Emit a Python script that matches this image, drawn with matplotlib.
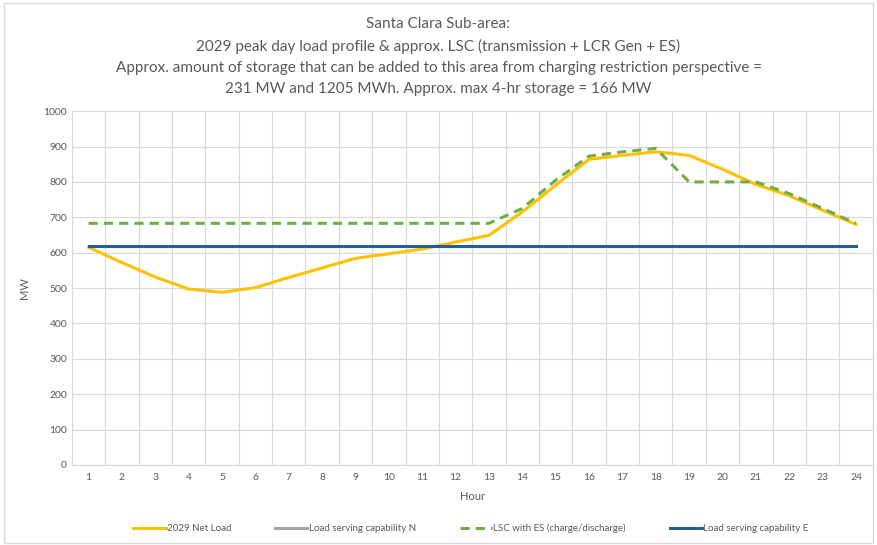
import numpy as np
from matplotlib import pyplot as plt
from matplotlib.patches import Rectangle

plt.rcParams['font.family'] = ['Lato', 'DejaVu Sans']

hours = list(range(1, 25))
net_load = [615, 572, 531, 497, 488, 501, 530, 557, 584, 597, 610, 630,
            649, 715, 791, 864, 875, 885, 875, 836, 793, 761, 720, 680]
lsc_n = [620] * 24
lsc_es = [683, 683, 683, 683, 683, 683, 683, 683, 683, 683, 683, 683,
          683, 725, 805, 873, 885, 895, 800, 800, 800, 767, 725, 683]
lsc_e = [620] * 24

title = ('Santa Clara Sub-area:\n'
         '2029 peak day load profile & approx. LSC (transmission + LCR Gen + ES)\n'
         'Approx. amount of storage that can be added to this area from charging restriction perspective =\n'
         '231 MW and 1205 MWh. Approx. max 4-hr storage = 166 MW')

txt = '#595959'
fig = plt.figure(figsize=(8.77, 5.45), dpi=100)
fig.patches.append(Rectangle((0.004, 0.004), 0.992, 0.99, transform=fig.transFigure,
                             fill=False, edgecolor='#d9d9d9', lw=1))
ax = fig.add_axes([0.082, 0.147, 0.913, 0.649])

x = np.arange(len(hours))
ax.plot(x, net_load, color='#ffc000', lw=2.2, label='2029 Net Load', zorder=3)
ax.plot(x, lsc_n, color='#a5a5a5', lw=2.2, label='Load serving capability N', zorder=2)
ax.plot(x, lsc_es, color='#70ad47', lw=2.2, ls=(0, (3, 2)), label='LSC with ES (charge/discharge)', zorder=4)
ax.plot(x, lsc_e, color='#255e91', lw=2.2, label='Load serving capability E', zorder=3)

ax.set_xlim(-0.5, len(hours) - 0.5)
ax.set_ylim(0, 1000)
ax.set_yticks(range(0, 1001, 100))
ax.set_xticks(x)
ax.set_xticklabels([str(h) for h in hours])
ax.set_xticks(np.arange(-0.5, len(hours)), minor=True)
ax.grid(True, which='minor', axis='x', color='#d9d9d9', lw=0.8)
ax.grid(True, which='major', axis='y', color='#d9d9d9', lw=0.8)
ax.set_axisbelow(True)
ax.tick_params(which='both', length=0, labelsize=7.5, labelcolor=txt)
ax.tick_params(axis='x', which='major', length=0, pad=6)
for s in ['top', 'right', 'left']:
    ax.spines[s].set_visible(False)
ax.spines['bottom'].set_color('#d9d9d9')

ax.set_xlabel('Hour', fontsize=8, color=txt, labelpad=6)
ax.set_ylabel('MW', fontsize=8, color=txt, labelpad=10)
fig.text(0.5, 0.968, title, ha='center', va='top', fontsize=11, color=txt, linespacing=1.62)

fig.legend(loc='center', bbox_to_anchor=(0.537, 0.03), ncol=4, frameon=False,
           fontsize=7, labelcolor=txt, handlelength=3.3, handletextpad=0.15,
           columnspacing=4.5)

plt.savefig('out.png', dpi=100)
